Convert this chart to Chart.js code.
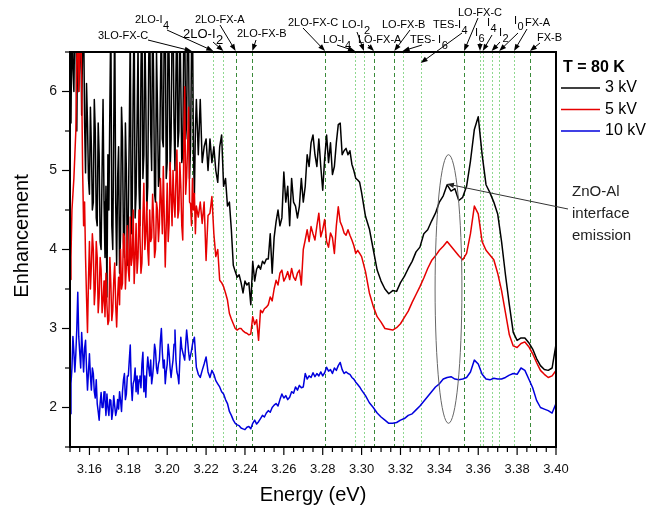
<!DOCTYPE html>
<html lang="en">
<head>
<meta charset="UTF-8">
<title>Enhancement vs Energy, T = 80 K</title>
<script src="https://cdn.jsdelivr.net/npm/chart.js"></script>
<style>
  body { margin: 0; background: #fff; }
  #wrap { width: 650px; height: 506px; }
</style>
</head>
<body>
<div id="wrap"><canvas id="chart" width="650" height="506"></canvas></div>
<script>
// photon energy (eV): 0.5 meV steps in the noisy low-energy part, 1 meV to 3.300, then 2 meV
const energy = [
  3.1500,3.1505,3.1510,3.1515,3.1520,3.1525,3.1530,3.1535,3.1540,3.1545,
  3.1550,3.1555,3.1560,3.1565,3.1570,3.1575,3.1580,3.1585,3.1590,3.1595,
  3.1600,3.1605,3.1610,3.1615,3.1620,3.1625,3.1630,3.1635,3.1640,3.1645,
  3.1650,3.1655,3.1660,3.1665,3.1670,3.1675,3.1680,3.1685,3.1690,3.1695,
  3.1700,3.1705,3.1710,3.1715,3.1720,3.1725,3.1730,3.1735,3.1740,3.1745,
  3.1750,3.1755,3.1760,3.1765,3.1770,3.1775,3.1780,3.1785,3.1790,3.1795,
  3.1800,3.1805,3.1810,3.1815,3.1820,3.1825,3.1830,3.1835,3.1840,3.1845,
  3.1850,3.1855,3.1860,3.1865,3.1870,3.1875,3.1880,3.1885,3.1890,3.1895,
  3.1900,3.1905,3.1910,3.1915,3.1920,3.1925,3.1930,3.1935,3.1940,3.1945,
  3.1950,3.1955,3.1960,3.1965,3.1970,3.1975,3.1980,3.1985,3.1990,3.1995,
  3.2000,3.2005,3.2010,3.2015,3.2020,3.2025,3.2030,3.2035,3.2040,3.2045,
  3.2050,3.2055,3.2060,3.2065,3.2070,3.2075,3.2080,3.2085,3.2090,3.2095,
  3.2100,3.2105,3.2110,3.2115,3.2120,3.2125,3.2130,3.2135,3.2140,3.2145,
  3.2150,
  3.216,3.217,3.218,3.219,
  3.220,3.221,3.222,3.223,3.224,3.225,3.226,3.227,3.228,3.229,
  3.230,3.231,3.232,3.233,3.234,3.235,3.236,3.237,3.238,3.239,
  3.240,3.241,3.242,3.243,3.244,3.245,3.246,3.247,3.248,3.249,
  3.250,3.251,3.252,3.253,3.254,3.255,3.256,3.257,3.258,3.259,
  3.260,3.261,3.262,3.263,3.264,3.265,3.266,3.267,3.268,3.269,
  3.270,3.271,3.272,3.273,3.274,3.275,3.276,3.277,3.278,3.279,
  3.280,3.281,3.282,3.283,3.284,3.285,3.286,3.287,3.288,3.289,
  3.290,3.291,3.292,3.293,3.294,3.295,3.296,3.297,3.298,3.299,
  3.300,
  3.302,3.304,3.306,3.308,3.310,3.312,3.314,3.316,3.318,3.320,
  3.322,3.324,3.326,3.328,3.330,3.332,3.334,3.336,3.338,3.340,
  3.342,3.344,3.346,3.348,3.350,3.352,3.354,3.356,3.358,3.360,
  3.362,3.364,3.366,3.368,3.370,3.372,3.374,3.376,3.378,3.380,
  3.382,3.384,3.386,3.388,3.390,3.392,3.394,3.396,3.398,3.400
];

const enh3kV = [
  6.2,5.6,7.0,6.3,6.0,7.0,7.0,5.5,7.0,6.0,
  6.4,7.0,5.7,6.6,7.0,5.6,4.97,6.1,5.6,4.9,
  4.7,5.8,5.3,4.5,4.6,5.9,5.5,4.4,4.3,5.6,
  5.2,4.1,4.0,5.0,5.9,4.6,3.9,4.8,3.4,5.2,
  4.5,5.8,7.0,4.3,4.0,5.5,7.0,4.6,3.8,4.9,
  5.3,3.7,4.2,5.8,5.4,4.1,3.9,5.6,5.0,3.8,
  4.4,5.5,6.8,4.2,4.5,6.0,7.0,4.4,4.7,5.6,
  6.6,4.8,4.3,6.3,7.0,4.9,5.2,6.8,5.9,4.5,
  4.8,6.4,7.0,5.5,5.0,7.0,6.2,4.7,4.6,6.5,
  5.8,4.8,4.9,6.0,7.0,5.4,5.3,6.9,7.0,4.9,
  5.1,7.0,6.4,5.0,5.4,6.8,7.0,5.6,5.0,6.2,
  7.0,5.3,5.5,7.0,6.1,5.1,5.2,6.7,7.0,5.4,
  5.6,7.0,6.6,4.9,5.3,6.5,7.0,5.2,4.7,5.5,
  5.9,
  5.2,5.9,5.1,5.3,
  5.4,5.0,5.4,5.1,5.3,5.0,4.85,5.3,5.45,4.8,
  4.9,4.55,4.6,4.25,3.8,3.72,3.65,3.68,3.58,3.45,
  3.6,3.55,3.58,3.3,3.85,3.6,3.75,3.8,3.75,3.85,
  3.82,3.88,3.88,4.2,3.7,4.15,4.35,4.5,4.3,4.4,
  4.98,4.6,4.8,4.3,4.9,4.6,4.55,4.4,4.55,4.9,
  4.6,4.8,5.2,5.05,5.35,5.45,5.2,5.05,5.4,5.05,
  4.75,5.15,5.45,5.1,5.35,4.95,5.05,5.35,5.58,5.6,
  5.2,5.25,5.28,5.2,5.25,5.08,5.0,4.9,4.88,4.85,
  4.72,
  4.42,4.26,4.0,3.74,3.6,3.5,3.44,3.48,3.47,3.58,
  3.66,3.76,3.85,3.97,4.03,4.2,4.25,4.36,4.46,4.6,
  4.68,4.82,4.74,4.77,4.62,4.66,4.8,5.12,5.52,5.68,
  5.2,4.82,4.72,4.6,4.45,4.1,3.68,3.3,2.95,2.85,
  2.88,2.88,2.82,2.74,2.62,2.53,2.48,2.47,2.5,2.8
];

const enh5kV = [
  3.62,3.9,4.5,4.7,4.9,5.2,5.5,6.4,7.0,6.0,
  6.5,7.0,6.1,5.0,4.3,4.6,3.9,3.4,2.95,3.6,
  4.1,3.5,3.8,4.2,4.0,3.3,3.5,4.1,3.9,3.2,
  3.4,3.9,3.75,3.2,3.35,3.6,3.15,3.7,3.3,3.05,
  3.1,3.9,3.57,3.1,3.23,3.6,3.83,3.3,3.02,3.4,
  3.65,3.3,4.0,3.5,3.57,4.2,4.16,3.5,3.8,4.3,
  3.74,3.6,4.41,3.8,3.9,4.5,3.57,3.9,4.33,3.7,
  3.9,4.5,4.16,3.7,3.83,4.4,4.84,4.0,4.2,4.6,
  4.0,3.8,4.5,4.1,4.15,4.7,4.4,3.9,4.0,4.6,
  4.5,4.1,4.33,4.9,4.6,4.2,5.05,4.4,3.78,4.3,
  4.84,4.1,4.33,5.1,4.7,4.3,5.0,4.6,4.41,4.9,
  5.26,4.4,4.5,5.1,4.8,4.3,4.12,5.2,6.06,4.7,
  4.92,5.3,5.8,4.6,4.58,4.3,4.9,4.5,4.71,4.2,
  4.55,
  4.41,4.6,4.33,4.6,
  3.86,4.43,4.46,4.67,4.2,3.91,4.0,3.61,3.58,3.53,
  3.45,3.36,3.19,3.12,3.06,3.0,2.98,3.0,3.0,2.97,
  2.95,2.94,2.92,2.93,3.15,3.05,3.11,2.85,3.23,3.2,
  3.25,3.27,3.3,3.4,3.35,3.5,3.61,3.55,3.7,3.74,
  3.6,3.65,3.72,3.62,3.76,3.65,3.61,3.7,3.74,3.55,
  4.0,4.12,4.25,4.1,4.29,4.2,4.12,4.3,4.46,4.16,
  4.25,4.38,4.1,4.03,4.21,4.15,3.95,4.3,4.54,4.35,
  4.29,4.21,4.18,4.25,4.18,4.12,4.05,3.95,3.99,3.95,
  3.91,
  3.72,3.45,3.28,3.15,3.08,3.0,2.99,2.98,3.01,3.06,
  3.14,3.22,3.33,3.43,3.53,3.64,3.76,3.86,3.92,3.99,
  4.04,4.1,4.04,3.98,3.92,3.87,3.95,4.2,4.55,4.45,
  4.1,3.99,3.93,3.87,3.7,3.48,3.2,2.92,2.78,2.76,
  2.81,2.83,2.77,2.68,2.57,2.47,2.42,2.38,2.4,2.47
];

const enh10kV = [
  1.92,2.3,2.5,2.9,2.7,2.45,2.68,3.0,3.46,2.9,
  2.7,2.5,2.95,2.7,2.45,2.75,2.85,2.5,2.22,2.45,
  2.68,2.4,2.22,2.5,2.43,2.2,2.12,2.35,2.05,1.95,
  1.84,2.05,2.19,2.0,2.0,2.2,2.1,1.9,2.17,2.0,
  1.9,2.1,2.09,1.85,1.95,2.15,2.02,1.9,1.96,2.1,
  1.98,2.2,2.09,1.95,2.2,2.35,2.43,2.1,2.17,2.4,
  2.4,2.6,2.79,2.3,2.09,2.3,2.35,2.5,2.2,2.4,
  2.17,2.35,2.4,2.25,2.55,2.7,2.2,2.4,2.13,2.45,
  2.64,2.5,2.4,2.6,2.3,2.4,2.55,2.8,2.72,2.5,
  2.43,2.55,2.6,2.85,3.0,2.7,2.5,2.6,2.3,2.45,
  2.55,2.8,2.68,2.5,2.38,2.5,2.6,2.8,2.98,2.6,
  2.45,2.4,2.3,2.6,2.89,2.75,2.7,2.65,2.6,2.8,
  2.98,2.85,2.7,2.6,2.66,2.72,2.8,2.85,2.89,2.7,
  2.51,
  2.42,2.38,2.47,2.55,
  2.64,2.45,2.38,2.47,2.42,2.34,2.3,2.26,2.2,2.17,
  2.1,2.05,1.95,1.9,1.84,1.8,1.78,1.77,1.74,1.73,
  1.72,1.75,1.76,1.73,1.8,1.84,1.79,1.82,1.86,1.9,
  1.88,1.93,1.96,1.94,2.0,2.03,2.05,2.02,2.1,2.17,
  2.12,2.15,2.1,2.13,2.2,2.18,2.26,2.22,2.28,2.25,
  2.26,2.43,2.36,2.4,2.38,2.44,2.39,2.43,2.4,2.45,
  2.4,2.44,2.51,2.46,2.48,2.43,2.5,2.47,2.53,2.57,
  2.48,2.43,2.45,2.43,2.42,2.38,2.36,2.32,2.29,2.26,
  2.22,
  2.15,2.06,2.0,1.93,1.88,1.84,1.8,1.8,1.81,1.84,
  1.86,1.9,1.92,1.97,2.02,2.08,2.14,2.2,2.26,2.3,
  2.36,2.38,2.39,2.36,2.35,2.36,2.38,2.45,2.6,2.55,
  2.42,2.36,2.35,2.37,2.36,2.36,2.38,2.41,2.43,2.42,
  2.5,2.47,2.36,2.25,2.09,2.0,1.98,1.96,1.93,2.05
];

const seriesLabels = ['3 kV', '5 kV', '10 kV'];
const xTickLabels = ['3.16','3.18','3.20','3.22','3.24','3.26','3.28','3.30','3.32','3.34','3.36','3.38','3.40'];
const yTickLabels = ['2','3','4','5','6'];

// phonon replica / exciton line positions (eV)
const strongLines = [3.2126, 3.2352, 3.2438, 3.2812, 3.3064, 3.3168, 3.3527, 3.3866];
const weakLines = [3.2237, 3.2289, 3.2966, 3.3012, 3.3211, 3.3304, 3.3609, 3.3623, 3.3669, 3.3708, 3.3784];

const peakNames = ['3LO-FX-C','2LO-I','2LO-I','2LO-FX-A','2LO-FX-B','2LO-FX-C','LO-I','LO-I','LO-FX-A','LO-FX-B','TES- I','TES-I','LO-FX-C','I','I','I','I','FX-A','FX-B'];
const peakSubs  = ['','4','2','','','','4','2','','','6','4','','6','4','2','0','',''];
const peakEnergy = [3.2126,3.2237,3.2289,3.2352,3.2438,3.2812,3.2966,3.3012,3.3064,3.3168,3.3211,3.3304,3.3527,3.3609,3.3623,3.3669,3.3708,3.3784,3.3866];

// label placement above the frame: text x, text y, arrow tail x, tail y, font size, head y (0 = frame top)
const peakLayout = [
  [98,36,148,40,11,0], [135,20,167,30,11,0], [183,34,213,42,13,0], [195,20,220,25,11,0],
  [237,34,256,40,11,0], [288,23,303,28,11,0], [323,40,337,45,11,0], [342,25,357,32,11,0],
  [358,40,368,45,11,0], [382,25,410,30,11,0], [410,40,422,45,11,0], [433,25,462,33,11,63],
  [458,13,478,18,11,0], [475,33,480,43,11,0], [487,23,492,35,11,0], [499,33,500,42,11,0],
  [514,21,518,33,11,0], [525,23,527,29,11,0], [537,38,540,43,11,0]
];

// ellipse marking the ZnO-Al interface band: centre (eV, value) and half widths
const bandCentre = [3.3447, 3.50];
const bandHalf = [0.0069, 1.70];
const bandArrowTip = [3.3439, 4.83];

const FONT = "'Liberation Sans', Arial, sans-serif";
Chart.defaults.font.family = FONT;
Chart.defaults.color = '#000';

function arrow(ctx, x1, y1, x2, y2) {
  const ang = Math.atan2(y2 - y1, x2 - x1);
  const L = 7, W = 2.6;
  ctx.beginPath();
  ctx.moveTo(x1, y1);
  ctx.lineTo(x2 - L * 0.7 * Math.cos(ang), y2 - L * 0.7 * Math.sin(ang));
  ctx.stroke();
  ctx.beginPath();
  ctx.moveTo(x2, y2);
  ctx.lineTo(x2 - L * Math.cos(ang) + W * Math.sin(ang), y2 - L * Math.sin(ang) - W * Math.cos(ang));
  ctx.lineTo(x2 - L * Math.cos(ang) - W * Math.sin(ang), y2 - L * Math.sin(ang) + W * Math.cos(ang));
  ctx.closePath();
  ctx.fill();
}

const decor = {
  id: 'decor',
  beforeDatasetsDraw(chart) {
    const {ctx, chartArea: a, scales: {x}} = chart;
    ctx.save();
    ctx.beginPath();
    ctx.rect(a.left, a.top, a.right - a.left, a.bottom - a.top);
    ctx.clip();
    ctx.lineWidth = 1;
    const drawSet = (list, color, dash) => {
      ctx.strokeStyle = color;
      ctx.setLineDash(dash);
      list.forEach(e => {
        const px = Math.round(x.getPixelForValue(e)) + 0.5;
        ctx.beginPath();
        ctx.moveTo(px, a.top);
        ctx.lineTo(px, a.bottom);
        ctx.stroke();
      });
    };
    drawSet(weakLines, '#8fd88f', [2, 2]);
    drawSet(strongLines, '#3a8a3a', [4, 3]);
    ctx.restore();
  },
  afterDatasetsDraw(chart) {
    const {ctx, chartArea: a, scales: {x, y}} = chart;
    ctx.save();

    // ellipse
    const cx = x.getPixelForValue(bandCentre[0]);
    const cy = y.getPixelForValue(bandCentre[1]);
    const rx = x.getPixelForValue(bandCentre[0] + bandHalf[0]) - cx;
    const ry = cy - y.getPixelForValue(bandCentre[1] + bandHalf[1]);
    ctx.strokeStyle = '#666';
    ctx.lineWidth = 1;
    ctx.beginPath();
    ctx.ellipse(cx, cy, rx, ry, 0, 0, Math.PI * 2);
    ctx.stroke();

    // frame
    ctx.strokeStyle = '#000';
    ctx.lineWidth = 2;
    ctx.strokeRect(a.left, a.top, a.right - a.left, a.bottom - a.top);

    // tick marks, outside
    ctx.lineWidth = 1.2;
    x.ticks.forEach(t => {
      const px = x.getPixelForValue(t.value);
      const len = t.label ? 7 : 4;
      ctx.beginPath();
      ctx.moveTo(px, a.bottom + 1);
      ctx.lineTo(px, a.bottom + 1 + len);
      ctx.stroke();
    });
    y.ticks.forEach(t => {
      const py = y.getPixelForValue(t.value);
      const len = t.label ? 7 : 4;
      ctx.beginPath();
      ctx.moveTo(a.left - 1, py);
      ctx.lineTo(a.left - 1 - len, py);
      ctx.stroke();
    });

    // axis titles
    ctx.fillStyle = '#000';
    ctx.font = '20px ' + FONT;
    ctx.textAlign = 'center';
    ctx.textBaseline = 'middle';
    ctx.fillText('Energy (eV)', (a.left + a.right) / 2, 495);
    ctx.save();
    ctx.translate(22, 236);
    ctx.rotate(-Math.PI / 2);
    ctx.fillText('Enhancement', 0, 0);
    ctx.restore();

    // peak labels with arrows
    ctx.lineWidth = 1;
    ctx.textAlign = 'left';
    peakNames.forEach((name, i) => {
      const [tx, ty, ax, ay, size, hy] = peakLayout[i];
      ctx.font = size + 'px ' + FONT;
      ctx.fillText(name, tx, ty);
      if (peakSubs[i]) ctx.fillText(peakSubs[i], tx + ctx.measureText(name).width + 0.5, ty + 6);
      arrow(ctx, ax, ay, x.getPixelForValue(peakEnergy[i]), hy || a.top - 1);
    });

    // interface emission note
    ctx.strokeStyle = '#333';
    ctx.fillStyle = '#222';
    arrow(ctx, 568, 209, x.getPixelForValue(bandArrowTip[0]), y.getPixelForValue(bandArrowTip[1]));
    ctx.font = '15px ' + FONT;
    ['ZnO-Al', 'interface', 'emission'].forEach((s, i) => ctx.fillText(s, 572, 192 + i * 22));

    // legend
    ctx.fillStyle = '#000';
    ctx.font = 'bold 16px ' + FONT;
    ctx.fillText('T = 80 K', 563, 68);
    ctx.font = '16px ' + FONT;
    chart.data.datasets.forEach((ds, i) => {
      const ly = 88 + i * 21.5;
      ctx.strokeStyle = ds.borderColor;
      ctx.lineWidth = 1.6;
      ctx.beginPath();
      ctx.moveTo(561, ly);
      ctx.lineTo(600, ly);
      ctx.stroke();
      ctx.fillText(ds.label, 605, ly);
    });
    ctx.restore();
  }
};

// a tick gets a label only when it sits exactly on a listed value
const tickText = (v, list, digits) => {
  const f = Math.pow(10, digits);
  const exact = Math.abs(v * f - Math.round(v * f)) < 1e-6;
  const s = v.toFixed(digits);
  return exact && list.includes(s) ? s : '';
};

const toPoints = vals => energy.map((e, i) => ({x: e, y: vals[i]}));
const lineStyle = { borderWidth: 1.5, pointRadius: 0, borderJoinStyle: 'round', clip: 0, tension: 0 };

new Chart(document.getElementById('chart'), {
  type: 'line',
  data: {
    datasets: [
      { ...lineStyle, label: seriesLabels[0], data: toPoints(enh3kV), borderColor: '#000000', order: 3 },
      { ...lineStyle, label: seriesLabels[1], data: toPoints(enh5kV), borderColor: '#e60000', order: 2 },
      { ...lineStyle, label: seriesLabels[2], data: toPoints(enh10kV), borderColor: '#0000dd', order: 1 }
    ]
  },
  options: {
    responsive: false,
    animation: false,
    events: [],
    layout: { padding: { top: 52, right: 94, left: 0, bottom: 0 } },
    plugins: { legend: { display: false }, tooltip: { enabled: false } },
    scales: {
      x: {
        type: 'linear', min: 3.15, max: 3.40,
        grid: { display: false, drawTicks: false },
        border: { display: false },
        afterFit: s => { s.height = 59; },
        afterBuildTicks: s => {
          s.ticks = [];
          for (let k = 0; k <= 50; k++) s.ticks.push({ value: Math.round((3.15 + k * 0.005) * 1000) / 1000 });
        },
        ticks: {
          autoSkip: false, maxRotation: 0, padding: 15,
          font: { size: 13 }, color: '#111',
          callback: v => tickText(v, xTickLabels, 2)
        }
      },
      y: {
        type: 'linear', min: 1.5, max: 6.5,
        grid: { display: false, drawTicks: false },
        border: { display: false },
        afterFit: s => { s.width = 70; },
        afterBuildTicks: s => {
          s.ticks = [];
          for (let k = 0; k <= 10; k++) s.ticks.push({ value: 1.5 + k * 0.5 });
        },
        ticks: {
          autoSkip: false, padding: 13,
          font: { size: 14 }, color: '#111',
          callback: v => tickText(v, yTickLabels, 0)
        }
      }
    }
  },
  plugins: [decor]
});
</script>
</body>
</html>
